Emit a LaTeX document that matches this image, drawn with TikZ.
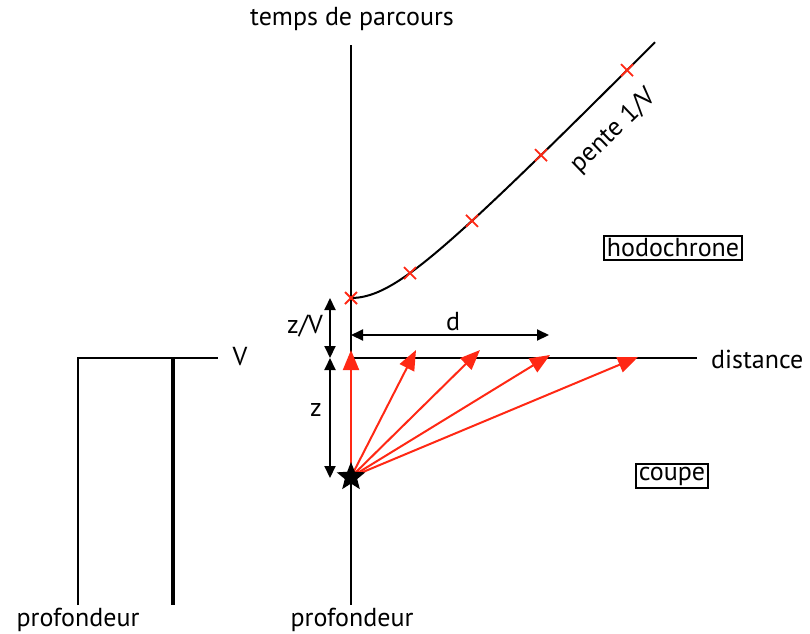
\documentclass[tikz,border=0pt]{standalone}
\usepackage{fontspec}
\setmainfont{PT Sans}
\usetikzlibrary{arrows.meta,shapes.geometric}
\definecolor{rayred}{RGB}{255,40,20}
\begin{document}
\begin{tikzpicture}[x=1pt,y=-1pt,
  lbl/.style={font=\fontsize{26}{30}\selectfont, inner sep=1pt},
  boxlbl/.style={lbl, draw, line width=2pt, inner sep=3pt},
  axis/.style={line width=2pt},
  ray/.style={rayred, line width=2pt, -{Triangle[length=20pt,width=16pt]}},
  dim/.style={line width=2pt, {Triangle[length=12pt,width=11pt]}-{Triangle[length=12pt,width=11pt]}},
  mk/.style={rayred, line width=1.8pt}]
\useasboundingbox (0,0) rectangle (810,633);
% axes
\coordinate (top) at (351,45);
\coordinate (bot) at (351,605);
\coordinate (o) at (351,358);
\coordinate (dend) at (697,358);
\draw[axis] (top) -- (bot);
\draw[axis] (o) -- (dend);
\node[lbl] (tp) at (352,19) {temps de parcours};
\node[lbl] (pr1) at (352,620) {profondeur};
\node[lbl, anchor=west] (dist) at (710,359) {distance};
% left velocity profile
\coordinate (l1) at (78,358);
\coordinate (l2) at (218,358);
\coordinate (l3) at (78,605);
\coordinate (vt) at (173,358);
\coordinate (vb) at (173,605);
\draw[axis] (l3) -- (l1) -- (l2);
\draw[line width=4.5pt] (vt) -- (vb);
\node[lbl] (V) at (240,357) {V};
\node[lbl] (pr2) at (78,620) {profondeur};
% rays
\coordinate (src) at (351,477);
\coordinate (r0) at (351,350);
\coordinate (r1) at (416,350);
\coordinate (r2) at (480,350);
\coordinate (r3) at (550,355);
\coordinate (r4) at (638,357);
\foreach \r in {r0,r1,r2,r3,r4} \draw[ray] (src) -- (\r);
\node[star, star points=5, star point ratio=2.3, fill=black, minimum size=30pt, inner sep=0pt] (st) at (src) {};
% hodochrone curve
\draw[line width=2pt, domain=0:30.4, samples=80, smooth, variable=\d]
  plot ({351+10*\d}, {358-10*sqrt(36+1.04*\d*\d)});
\foreach \d in {0,5.9,12.1,19.0,27.6} {
  \pgfmathsetmacro{\yy}{358-10*sqrt(36+1.04*\d*\d)}
  \pgfmathsetmacro{\xx}{351+10*\d}
  \draw[mk] ({\xx-6},{\yy-6}) -- ({\xx+6},{\yy+6});
  \draw[mk] ({\xx-6},{\yy+6}) -- ({\xx+6},{\yy-6});
}
\node[lbl, rotate=44] (pente) at (614,131) {pente 1/V};
% dimensions
\coordinate (zv1) at (330,298);
\coordinate (zv2) at (330,358);
\coordinate (z2) at (330,478);
\draw[dim] (zv1) -- (zv2);
\draw[dim] (zv2) -- (z2);
\node[lbl] (zvl) at (305,326) {z/V};
\node[lbl] (zl) at (316,410) {z};
\coordinate (d1) at (351,335);
\coordinate (d2) at (549,335);
\draw[dim] (d1) -- (d2);
\node[lbl] (dl) at (453,322) {d};
% boxes
\node[boxlbl] (hodo) at (673,248) {hodochrone};
\node[boxlbl] (coupe) at (672,476) {coupe};
\end{tikzpicture}
\end{document}
